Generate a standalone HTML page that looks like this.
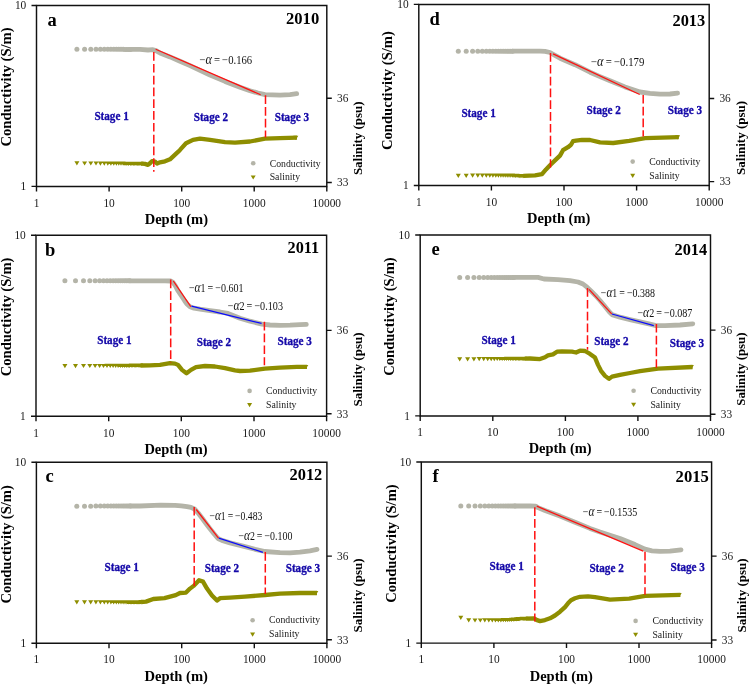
<!DOCTYPE html>
<html><head><meta charset="utf-8"><title>Conductivity and salinity profiles 2010-2015</title>
<style>html,body{margin:0;padding:0;background:#fff;width:750px;height:685px;overflow:hidden}svg{display:block;will-change:transform;font-family:"Liberation Serif",serif}</style>
</head><body>
<svg width="750" height="685" viewBox="0 0 750 685" font-family="Liberation Serif, serif"><g id="pa"><g fill="#b4b4a8"><circle cx="76.9" cy="49.2" r="2.5"/><circle cx="84.6" cy="49.2" r="2.5"/><circle cx="90.8" cy="49.2" r="2.5"/><circle cx="96" cy="49.3" r="2.5"/><circle cx="100.4" cy="49.3" r="2.5"/><circle cx="104.3" cy="49.3" r="2.5"/><circle cx="107.8" cy="49.3" r="2.5"/><circle cx="110.9" cy="49.3" r="2.5"/><circle cx="113.8" cy="49.3" r="2.5"/><circle cx="116.4" cy="49.3" r="2.5"/><circle cx="118.8" cy="49.3" r="2.5"/><circle cx="121" cy="49.3" r="2.5"/><circle cx="123.1" cy="49.3" r="2.5"/><circle cx="125" cy="49.4" r="2.5"/><circle cx="126.9" cy="49.4" r="2.5"/><circle cx="128.6" cy="49.4" r="2.5"/><circle cx="130.3" cy="49.4" r="2.5"/></g><polyline points="130.3,49.4 140,49.4 148,50 153,49.7 156,50.6 160,53 170,56.9 180,61.2 190,65.6 200,70.3 210,75.1 225,81.4 240,87.2 250,90.7 258,93 265,94.6 280,95.2 290,94.6 296.7,93.7" fill="none" stroke="#b4b4a8" stroke-width="4.8" stroke-linecap="round" stroke-linejoin="round"/><path fill="#8e8e00" d="M74.4 161.3H79.4L76.9 165.5ZM82.1 161.4H87.1L84.6 165.6ZM88.3 161.4H93.3L90.8 165.6ZM93.5 161.4H98.5L96 165.6ZM97.9 161.5H102.9L100.4 165.7ZM101.8 161.5H106.8L104.3 165.7ZM105.3 161.5H110.3L107.8 165.7ZM108.4 161.6H113.4L110.9 165.8ZM111.3 161.6H116.3L113.8 165.8ZM113.9 161.6H118.9L116.4 165.8ZM116.3 161.6H121.3L118.8 165.8ZM118.5 161.6H123.5L121 165.8ZM120.6 161.6H125.6L123.1 165.8ZM122.5 161.7H127.5L125 165.9ZM124.4 161.7H129.4L126.9 165.9ZM126.1 161.7H131.1L128.6 165.9ZM127.8 161.7H132.8L130.3 165.9ZM129.4 161.7H134.4L131.9 165.9ZM130.8 161.7H135.8L133.3 165.9ZM132.3 161.7H137.3L134.8 165.9ZM133.6 161.7H138.6L136.1 165.9ZM134.9 161.7H139.9L137.4 165.9ZM136.2 161.7H141.2L138.7 165.9ZM137.4 161.7H142.4L139.9 165.9ZM138.6 161.8H143.6L141.1 166ZM293.3 135.7H298.3L295.8 139.9Z"/><polyline points="141.1,163.7 145,163.9 148,164.9 150,163.3 152,161.1 155,161.6 157,163.6 160,162.3 165,161.3 170,159.3 174,155.6 178,151.9 180,149.9 186,143.3 193,139.9 200,138.7 210,139.9 225,142.1 235,142.6 250,141.5 265,138.7 280,138.1 297,137.6" fill="none" stroke="#8e8e00" stroke-width="4.3" stroke-linecap="butt" stroke-linejoin="round"/><line x1="155.7" y1="49.2" x2="260.6" y2="94.7" stroke="#ff1010" stroke-width="1.25"/><line x1="153.8" y1="52.1" x2="153.8" y2="171.7" stroke="#ff1010" stroke-width="1.5" stroke-dasharray="8.7 3.1"/><line x1="265.5" y1="95.2" x2="265.5" y2="137.5" stroke="#ff1010" stroke-width="1.5" stroke-dasharray="8.7 3.1"/><path d="M36.5 5.5H326.8V186.4H36.5Z" fill="none" stroke="#111" stroke-width="1.45"/><path d="M31.5 5.5H36.5M31.5 186.4H36.5M326.8 98.3H331.8M326.8 182.5H331.8M36.5 186.4V191.4M109.1 186.4V191.4M181.7 186.4V191.4M254.2 186.4V191.4M326.8 186.4V191.4" stroke="#111" stroke-width="1.4" fill="none"/><g font-size="11.4" fill="#1a1a1a"><text x="26.3" y="9.4" text-anchor="end" transform="matrix(1 0 0 1.08 0 -0.75)">10</text><text x="26.3" y="190.3" text-anchor="end" transform="matrix(1 0 0 1.08 0 -15.22)">1</text><text x="337" y="102.2" transform="matrix(1 0 0 1.08 0 -8.18)">36</text><text x="337" y="186.4" transform="matrix(1 0 0 1.08 0 -14.91)">33</text><text x="36.5" y="206.7" text-anchor="middle" transform="matrix(1 0 0 1.08 0 -16.54)">1</text><text x="109.1" y="206.7" text-anchor="middle" transform="matrix(1 0 0 1.08 0 -16.54)">10</text><text x="181.7" y="206.7" text-anchor="middle" transform="matrix(1 0 0 1.08 0 -16.54)">100</text><text x="254.2" y="206.7" text-anchor="middle" transform="matrix(1 0 0 1.08 0 -16.54)">1000</text><text x="326.8" y="206.7" text-anchor="middle" transform="matrix(1 0 0 1.08 0 -16.54)">10000</text></g><text transform="translate(10.8 146.6) rotate(-90)" font-size="14" font-weight="bold" textLength="119.3" lengthAdjust="spacingAndGlyphs">Conductivity (S/m)</text><text transform="translate(362.1 175.1) rotate(-90)" font-size="13.4" font-weight="bold" textLength="73.7" lengthAdjust="spacingAndGlyphs">Salinity (psu)</text><text x="144.7" y="224" font-size="14.5" font-weight="bold" textLength="63.3" lengthAdjust="spacingAndGlyphs">Depth (m)</text><text x="47.4" y="26" font-size="18.5" font-weight="bold">a</text><text x="286" y="24" font-size="16.5" font-weight="bold" textLength="33.2" lengthAdjust="spacingAndGlyphs">2010</text><g font-size="11.3" font-weight="bold" fill="#1408a8" stroke="#1408a8" stroke-width="0.3"><text x="94.4" y="119.9" textLength="34.3" lengthAdjust="spacingAndGlyphs" transform="matrix(1 0 0 1.13 0 -15.59)">Stage 1</text><text x="193.7" y="121.4" textLength="34.3" lengthAdjust="spacingAndGlyphs" transform="matrix(1 0 0 1.13 0 -15.78)">Stage 2</text><text x="274.7" y="121" textLength="34.3" lengthAdjust="spacingAndGlyphs" transform="matrix(1 0 0 1.13 0 -15.73)">Stage 3</text></g><g font-size="11.6" fill="#111"><text x="199.4" y="63.8" textLength="52.8" lengthAdjust="spacingAndGlyphs" transform="matrix(1 0 0 1.04 0 -2.55)">&#8722;<tspan font-style="italic" font-size="13.2">&#945;</tspan>&#8201;=&#8201;&#8722;0.166</text></g><circle cx="253.2" cy="163.2" r="2.3" fill="#b4b4a8"/><path d="M250.7 175.4H255.7L253.2 179.6Z" fill="#8e8e00"/><g font-size="9.9" fill="#1a1a1a"><text x="269.7" y="166.6" textLength="51" lengthAdjust="spacingAndGlyphs">Conductivity</text><text x="269.7" y="180" textLength="30.4" lengthAdjust="spacingAndGlyphs">Salinity</text></g></g><g id="pb"><g fill="#b4b4a8"><circle cx="64.9" cy="280.8" r="2.5"/><circle cx="75.5" cy="280.8" r="2.5"/><circle cx="83.5" cy="280.8" r="2.5"/><circle cx="89.8" cy="280.8" r="2.5"/><circle cx="95.1" cy="280.8" r="2.5"/><circle cx="99.6" cy="280.8" r="2.5"/><circle cx="103.5" cy="280.8" r="2.5"/><circle cx="107" cy="280.8" r="2.5"/><circle cx="110.2" cy="280.8" r="2.5"/><circle cx="113.1" cy="280.8" r="2.5"/><circle cx="115.7" cy="280.8" r="2.5"/><circle cx="118.1" cy="280.8" r="2.5"/><circle cx="120.4" cy="280.8" r="2.5"/><circle cx="122.5" cy="280.8" r="2.5"/><circle cx="124.5" cy="280.8" r="2.5"/><circle cx="126.3" cy="280.8" r="2.5"/><circle cx="128.1" cy="280.8" r="2.5"/><circle cx="129.7" cy="280.8" r="2.5"/></g><polyline points="129.7,280.8 165,280.8 170.5,281 173,282.3 175.5,286 177.5,290 180,293.8 182.5,297.5 184.5,300.5 187,304 190,306.8 194,308.2 200,309.2 210,310.6 220,312 228,313.4 240,318.2 250,321.2 262,324.1 270,325 280,325.4 290,325.2 300,324.7 306.3,324.4" fill="none" stroke="#b4b4a8" stroke-width="4.8" stroke-linecap="round" stroke-linejoin="round"/><path fill="#8e8e00" d="M62.4 364H67.4L64.9 368.2ZM73 364H78L75.5 368.2ZM81 363.9H86L83.5 368.1ZM87.3 363.9H92.3L89.8 368.1ZM92.6 363.9H97.6L95.1 368.1ZM97.1 363.9H102.1L99.6 368.1ZM101 363.9H106L103.5 368.1ZM104.5 363.8H109.5L107 368ZM107.7 363.8H112.7L110.2 368ZM110.6 363.8H115.6L113.1 368ZM113.2 363.8H118.2L115.7 368ZM115.6 363.8H120.6L118.1 368ZM117.9 363.7H122.9L120.4 367.9ZM120 363.7H125L122.5 367.9ZM122 363.7H127L124.5 367.9ZM123.8 363.7H128.8L126.3 367.9ZM125.6 363.7H130.6L128.1 367.9ZM127.2 363.7H132.2L129.7 367.9ZM128.8 363.6H133.8L131.3 367.8ZM130.3 363.6H135.3L132.8 367.8ZM131.7 363.6H136.7L134.2 367.8ZM133.1 363.6H138.1L135.6 367.8ZM134.4 363.6H139.4L136.9 367.8ZM135.7 363.6H140.7L138.2 367.8ZM136.9 363.6H141.9L139.4 367.8ZM138.1 363.6H143.1L140.6 367.8ZM303.3 364.9H308.3L305.8 369.1Z"/><polyline points="140.6,365.5 150,365.4 160,364.9 170,363.1 175,363.6 178,364.9 182,369.9 186.5,373.3 191,369.9 196,367.2 205,366 215,366.5 225,368.1 235,370.3 240,371 250,370.6 265,368.7 280,367.6 297,366.9 307,366.8" fill="none" stroke="#8e8e00" stroke-width="4.3" stroke-linecap="butt" stroke-linejoin="round"/><line x1="173.3" y1="281" x2="190.8" y2="306.6" stroke="#ff1010" stroke-width="1.25"/><line x1="191.5" y1="306.2" x2="261.6" y2="323.4" stroke="#0a0aff" stroke-width="1.25"/><line x1="170.7" y1="279.5" x2="170.7" y2="362.4" stroke="#ff1010" stroke-width="1.5" stroke-dasharray="8.7 3.1"/><line x1="264.4" y1="321.8" x2="264.4" y2="365.2" stroke="#ff1010" stroke-width="1.5" stroke-dasharray="8.7 3.1"/><path d="M36 235.2H326.6V416.3H36Z" fill="none" stroke="#111" stroke-width="1.45"/><path d="M31 235.2H36M31 416.3H36M326.6 330.4H331.6M326.6 413.7H331.6M36 416.3V421.3M108.7 416.3V421.3M181.3 416.3V421.3M254 416.3V421.3M326.6 416.3V421.3" stroke="#111" stroke-width="1.4" fill="none"/><g font-size="11.4" fill="#1a1a1a"><text x="25.8" y="239.1" text-anchor="end" transform="matrix(1 0 0 1.08 0 -19.13)">10</text><text x="25.8" y="420.2" text-anchor="end" transform="matrix(1 0 0 1.08 0 -33.62)">1</text><text x="336.8" y="334.3" transform="matrix(1 0 0 1.08 0 -26.74)">36</text><text x="336.8" y="417.6" transform="matrix(1 0 0 1.08 0 -33.41)">33</text><text x="36" y="436.6" text-anchor="middle" transform="matrix(1 0 0 1.08 0 -34.93)">1</text><text x="108.7" y="436.6" text-anchor="middle" transform="matrix(1 0 0 1.08 0 -34.93)">10</text><text x="181.3" y="436.6" text-anchor="middle" transform="matrix(1 0 0 1.08 0 -34.93)">100</text><text x="254" y="436.6" text-anchor="middle" transform="matrix(1 0 0 1.08 0 -34.93)">1000</text><text x="326.6" y="436.6" text-anchor="middle" transform="matrix(1 0 0 1.08 0 -34.93)">10000</text></g><text transform="translate(10.5 376.3) rotate(-90)" font-size="14" font-weight="bold" textLength="118.7" lengthAdjust="spacingAndGlyphs">Conductivity (S/m)</text><text transform="translate(361.5 406.5) rotate(-90)" font-size="13.4" font-weight="bold" textLength="74" lengthAdjust="spacingAndGlyphs">Salinity (psu)</text><text x="144.4" y="453.7" font-size="14.5" font-weight="bold" textLength="63.2" lengthAdjust="spacingAndGlyphs">Depth (m)</text><text x="45" y="255.8" font-size="18.5" font-weight="bold">b</text><text x="287.6" y="253" font-size="16.5" font-weight="bold" textLength="31.6" lengthAdjust="spacingAndGlyphs">2011</text><g font-size="11.3" font-weight="bold" fill="#1408a8" stroke="#1408a8" stroke-width="0.3"><text x="97.2" y="344.2" textLength="34.3" lengthAdjust="spacingAndGlyphs" transform="matrix(1 0 0 1.13 0 -44.75)">Stage 1</text><text x="196.7" y="345.6" textLength="34.3" lengthAdjust="spacingAndGlyphs" transform="matrix(1 0 0 1.13 0 -44.93)">Stage 2</text><text x="277.6" y="344.9" textLength="34.3" lengthAdjust="spacingAndGlyphs" transform="matrix(1 0 0 1.13 0 -44.84)">Stage 3</text></g><g font-size="11.6" fill="#111"><text x="188.9" y="292.3" textLength="54.7" lengthAdjust="spacingAndGlyphs" transform="matrix(1 0 0 1.04 0 -11.69)">&#8722;<tspan font-style="italic" font-size="13.2">&#945;</tspan>1&#8201;=&#8201;&#8722;0.601</text><text x="227.7" y="309.8" textLength="55.3" lengthAdjust="spacingAndGlyphs" transform="matrix(1 0 0 1.04 0 -12.39)">&#8722;<tspan font-style="italic" font-size="13.2">&#945;</tspan>2&#8201;=&#8201;&#8722;0.103</text></g><circle cx="249.6" cy="390.9" r="2.3" fill="#b4b4a8"/><path d="M247.1 403.1H252.1L249.6 407.3Z" fill="#8e8e00"/><g font-size="9.9" fill="#1a1a1a"><text x="266.1" y="394" textLength="51" lengthAdjust="spacingAndGlyphs">Conductivity</text><text x="266.1" y="408" textLength="30.4" lengthAdjust="spacingAndGlyphs">Salinity</text></g></g><g id="pc"><g fill="#b4b4a8"><circle cx="76.8" cy="506.2" r="2.5"/><circle cx="84.5" cy="506.2" r="2.5"/><circle cx="90.7" cy="506.2" r="2.5"/><circle cx="95.9" cy="506.1" r="2.5"/><circle cx="100.4" cy="506.1" r="2.5"/><circle cx="104.3" cy="506.1" r="2.5"/><circle cx="107.7" cy="506.1" r="2.5"/><circle cx="110.9" cy="506.1" r="2.5"/><circle cx="113.7" cy="506.1" r="2.5"/><circle cx="116.3" cy="506.1" r="2.5"/><circle cx="118.7" cy="506.1" r="2.5"/><circle cx="121" cy="506.1" r="2.5"/><circle cx="123.1" cy="506.1" r="2.5"/><circle cx="125" cy="506" r="2.5"/><circle cx="126.9" cy="506" r="2.5"/><circle cx="128.6" cy="506" r="2.5"/><circle cx="130.3" cy="506" r="2.5"/></g><polyline points="130.3,506 140,506 160.8,505.2 175,505.4 181.3,505.9 187,506.6 191,507.4 194.5,509 198,512.8 202,518 206,523.5 210,528.8 214,533.8 218,538.5 222,540.4 230,542.9 245,546.6 255,549.3 265,551.5 280,552.6 290,552.8 300,552.2 310,550.8 317,549.4" fill="none" stroke="#b4b4a8" stroke-width="4.8" stroke-linecap="round" stroke-linejoin="round"/><path fill="#8e8e00" d="M74.3 600.2H79.3L76.8 604.4ZM82 600.2H87L84.5 604.4ZM88.2 600.2H93.2L90.7 604.4ZM93.4 600.2H98.4L95.9 604.4ZM97.9 600.2H102.9L100.4 604.4ZM101.8 600.2H106.8L104.3 604.4ZM105.2 600.2H110.2L107.7 604.4ZM108.4 600.2H113.4L110.9 604.4ZM111.2 600.2H116.2L113.7 604.4ZM113.8 600.2H118.8L116.3 604.4ZM116.2 600.2H121.2L118.7 604.4ZM118.5 600.2H123.5L121 604.4ZM120.6 600.2H125.6L123.1 604.4ZM122.5 600.2H127.5L125 604.4ZM124.4 600.2H129.4L126.9 604.4ZM126.1 600.2H131.1L128.6 604.4ZM127.8 600.2H132.8L130.3 604.4ZM129.3 600.2H134.3L131.8 604.4ZM130.8 600.2H135.8L133.3 604.4ZM132.2 600.2H137.2L134.7 604.4ZM133.6 600.2H138.6L136.1 604.4ZM134.9 600.2H139.9L137.4 604.4ZM136.2 600.2H141.2L138.7 604.4ZM137.4 600.2H142.4L139.9 604.4ZM138.5 600.1H143.5L141 604.3ZM313.3 591.1H318.3L315.8 595.3Z"/><polyline points="141,602 146,601.6 153.3,599 164.5,598.2 175.7,595.2 180,593 186,592.6 190,588.6 194,585.6 199,580.2 203,581.6 207,588.6 212,595.6 217,600.6 220,598.2 230,597.6 245,596.6 265,595 280,593.6 300,593 317,593" fill="none" stroke="#8e8e00" stroke-width="4.3" stroke-linecap="butt" stroke-linejoin="round"/><line x1="196.2" y1="509.5" x2="218.5" y2="538.1" stroke="#ff1010" stroke-width="1.25"/><line x1="218.8" y1="538.2" x2="262.9" y2="552.3" stroke="#0a0aff" stroke-width="1.25"/><line x1="194.2" y1="506.9" x2="194.2" y2="586" stroke="#ff1010" stroke-width="1.5" stroke-dasharray="8.7 3.1"/><line x1="265.3" y1="552.1" x2="265.3" y2="594" stroke="#ff1010" stroke-width="1.5" stroke-dasharray="8.7 3.1"/><path d="M36.4 462.3H326.9V643.2H36.4Z" fill="none" stroke="#111" stroke-width="1.45"/><path d="M31.4 462.3H36.4M31.4 643.2H36.4M326.9 556.1H331.9M326.9 639.7H331.9M36.4 643.2V648.2M109 643.2V648.2M181.7 643.2V648.2M254.3 643.2V648.2M326.9 643.2V648.2" stroke="#111" stroke-width="1.4" fill="none"/><g font-size="11.4" fill="#1a1a1a"><text x="26.2" y="466.2" text-anchor="end" transform="matrix(1 0 0 1.08 0 -37.30)">10</text><text x="26.2" y="647.1" text-anchor="end" transform="matrix(1 0 0 1.08 0 -51.77)">1</text><text x="337.1" y="560" transform="matrix(1 0 0 1.08 0 -44.80)">36</text><text x="337.1" y="643.6" transform="matrix(1 0 0 1.08 0 -51.49)">33</text><text x="36.4" y="663.5" text-anchor="middle" transform="matrix(1 0 0 1.08 0 -53.08)">1</text><text x="109" y="663.5" text-anchor="middle" transform="matrix(1 0 0 1.08 0 -53.08)">10</text><text x="181.7" y="663.5" text-anchor="middle" transform="matrix(1 0 0 1.08 0 -53.08)">100</text><text x="254.3" y="663.5" text-anchor="middle" transform="matrix(1 0 0 1.08 0 -53.08)">1000</text><text x="326.9" y="663.5" text-anchor="middle" transform="matrix(1 0 0 1.08 0 -53.08)">10000</text></g><text transform="translate(10.8 603.6) rotate(-90)" font-size="14" font-weight="bold" textLength="118.4" lengthAdjust="spacingAndGlyphs">Conductivity (S/m)</text><text transform="translate(362 632.4) rotate(-90)" font-size="13.4" font-weight="bold" textLength="73.9" lengthAdjust="spacingAndGlyphs">Salinity (psu)</text><text x="144.4" y="681" font-size="14.5" font-weight="bold" textLength="63.6" lengthAdjust="spacingAndGlyphs">Depth (m)</text><text x="45.6" y="482" font-size="18.5" font-weight="bold">c</text><text x="289.5" y="480" font-size="16.5" font-weight="bold" textLength="32.8" lengthAdjust="spacingAndGlyphs">2012</text><g font-size="11.3" font-weight="bold" fill="#1408a8" stroke="#1408a8" stroke-width="0.3"><text x="104.5" y="570.7" textLength="34.3" lengthAdjust="spacingAndGlyphs" transform="matrix(1 0 0 1.13 0 -74.19)">Stage 1</text><text x="204.7" y="572" textLength="34.3" lengthAdjust="spacingAndGlyphs" transform="matrix(1 0 0 1.13 0 -74.36)">Stage 2</text><text x="285.7" y="572" textLength="34.3" lengthAdjust="spacingAndGlyphs" transform="matrix(1 0 0 1.13 0 -74.36)">Stage 3</text></g><g font-size="11.6" fill="#111"><text x="209.6" y="519.6" textLength="52.8" lengthAdjust="spacingAndGlyphs" transform="matrix(1 0 0 1.04 0 -20.78)">&#8722;<tspan font-style="italic" font-size="13.2">&#945;</tspan>1&#8201;=&#8201;&#8722;0.483</text><text x="238.4" y="540.4" textLength="54" lengthAdjust="spacingAndGlyphs" transform="matrix(1 0 0 1.04 0 -21.62)">&#8722;<tspan font-style="italic" font-size="13.2">&#945;</tspan>2&#8201;=&#8201;&#8722;0.100</text></g><circle cx="252.6" cy="620.2" r="2.3" fill="#b4b4a8"/><path d="M250.1 632.5H255.1L252.6 636.7Z" fill="#8e8e00"/><g font-size="9.9" fill="#1a1a1a"><text x="269.1" y="623.4" textLength="51" lengthAdjust="spacingAndGlyphs">Conductivity</text><text x="269.1" y="637" textLength="30.4" lengthAdjust="spacingAndGlyphs">Salinity</text></g></g><g id="pd"><g fill="#b4b4a8"><circle cx="458.3" cy="51.2" r="2.5"/><circle cx="466.2" cy="51.2" r="2.5"/><circle cx="472.6" cy="51.2" r="2.5"/><circle cx="477.8" cy="51.2" r="2.5"/><circle cx="482.3" cy="51.2" r="2.5"/><circle cx="486.3" cy="51.2" r="2.5"/><circle cx="489.8" cy="51.2" r="2.5"/><circle cx="492.9" cy="51.2" r="2.5"/><circle cx="495.8" cy="51.2" r="2.5"/><circle cx="498.4" cy="51.2" r="2.5"/><circle cx="500.9" cy="51.2" r="2.5"/><circle cx="503.1" cy="51.2" r="2.5"/><circle cx="505.2" cy="51.2" r="2.5"/><circle cx="507.2" cy="51.2" r="2.5"/><circle cx="509" cy="51.2" r="2.5"/><circle cx="510.8" cy="51.2" r="2.5"/><circle cx="512.5" cy="51.2" r="2.5"/></g><polyline points="512.5,51.2 540,51.2 545,51.4 550,52.5 555,55.3 560,58.2 575,64.7 590,72.2 600,76.6 610,80.8 625,86.9 640,92 650,93.3 660,94.2 670,94 677.6,93.2" fill="none" stroke="#b4b4a8" stroke-width="4.8" stroke-linecap="round" stroke-linejoin="round"/><path fill="#8e8e00" d="M455.8 173.7H460.8L458.3 177.9ZM463.7 173.7H468.7L466.2 177.9ZM470.1 173.6H475.1L472.6 177.8ZM475.3 173.6H480.3L477.8 177.8ZM479.8 173.6H484.8L482.3 177.8ZM483.8 173.6H488.8L486.3 177.8ZM487.3 173.6H492.3L489.8 177.8ZM490.4 173.6H495.4L492.9 177.8ZM493.3 173.6H498.3L495.8 177.8ZM495.9 173.5H500.9L498.4 177.7ZM498.4 173.5H503.4L500.9 177.7ZM500.6 173.5H505.6L503.1 177.7ZM502.7 173.5H507.7L505.2 177.7ZM504.7 173.5H509.7L507.2 177.7ZM506.5 173.5H511.5L509 177.7ZM508.3 173.5H513.3L510.8 177.7ZM510 173.6H515L512.5 177.8ZM511.5 173.7H516.5L514 177.9ZM513 173.8H518L515.5 178ZM514.5 173.8H519.5L517 178ZM515.8 173.9H520.8L518.3 178.1ZM517.2 174H522.2L519.7 178.2ZM518.4 174H523.4L520.9 178.2ZM519.6 174.1H524.6L522.1 178.3ZM520.8 174H525.8L523.3 178.2ZM675.1 135.3H680.1L677.6 139.5Z"/><polyline points="523.3,175.9 535,175.4 542,174.2 546,169.4 550,165.2 555,160.4 560,155.6 563,150.2 568,147.2 571,144.8 573,141.2 576,140.6 582,139.8 590,140 600,142.4 613.2,143 629.2,140.8 645.2,138.2 678.8,137.2" fill="none" stroke="#8e8e00" stroke-width="4.3" stroke-linecap="butt" stroke-linejoin="round"/><line x1="553.1" y1="53.9" x2="639.7" y2="94.5" stroke="#ff1010" stroke-width="1.25"/><line x1="550.5" y1="53.1" x2="550.5" y2="167.6" stroke="#ff1010" stroke-width="1.5" stroke-dasharray="8.7 3.1"/><line x1="643.2" y1="94.9" x2="643.2" y2="136.5" stroke="#ff1010" stroke-width="1.5" stroke-dasharray="8.7 3.1"/><path d="M418.8 4.4H709.2V185.5H418.8Z" fill="none" stroke="#111" stroke-width="1.45"/><path d="M413.8 4.4H418.8M413.8 185.5H418.8M709.2 98.5H714.2M709.2 181.6H714.2M418.8 185.5V190.5M491.4 185.5V190.5M564 185.5V190.5M636.6 185.5V190.5M709.2 185.5V190.5" stroke="#111" stroke-width="1.4" fill="none"/><g font-size="11.4" fill="#1a1a1a"><text x="408.6" y="8.3" text-anchor="end" transform="matrix(1 0 0 1.08 0 -0.66)">10</text><text x="408.6" y="189.4" text-anchor="end" transform="matrix(1 0 0 1.08 0 -15.15)">1</text><text x="719.4" y="102.4" transform="matrix(1 0 0 1.08 0 -8.19)">36</text><text x="719.4" y="185.5" transform="matrix(1 0 0 1.08 0 -14.84)">33</text><text x="418.8" y="205.8" text-anchor="middle" transform="matrix(1 0 0 1.08 0 -16.46)">1</text><text x="491.4" y="205.8" text-anchor="middle" transform="matrix(1 0 0 1.08 0 -16.46)">10</text><text x="564" y="205.8" text-anchor="middle" transform="matrix(1 0 0 1.08 0 -16.46)">100</text><text x="636.6" y="205.8" text-anchor="middle" transform="matrix(1 0 0 1.08 0 -16.46)">1000</text><text x="709.2" y="205.8" text-anchor="middle" transform="matrix(1 0 0 1.08 0 -16.46)">10000</text></g><text transform="translate(392.2 150) rotate(-90)" font-size="14" font-weight="bold" textLength="118.9" lengthAdjust="spacingAndGlyphs">Conductivity (S/m)</text><text transform="translate(744.7 174.9) rotate(-90)" font-size="13.4" font-weight="bold" textLength="74" lengthAdjust="spacingAndGlyphs">Salinity (psu)</text><text x="527.1" y="223.3" font-size="14.5" font-weight="bold" textLength="63.2" lengthAdjust="spacingAndGlyphs">Depth (m)</text><text x="429.5" y="24.8" font-size="18.5" font-weight="bold">d</text><text x="672.5" y="25.5" font-size="16.5" font-weight="bold" textLength="32.7" lengthAdjust="spacingAndGlyphs">2013</text><g font-size="11.3" font-weight="bold" fill="#1408a8" stroke="#1408a8" stroke-width="0.3"><text x="461.4" y="117" textLength="34.3" lengthAdjust="spacingAndGlyphs" transform="matrix(1 0 0 1.13 0 -15.21)">Stage 1</text><text x="586.6" y="114.5" textLength="34.3" lengthAdjust="spacingAndGlyphs" transform="matrix(1 0 0 1.13 0 -14.88)">Stage 2</text><text x="667.7" y="114" textLength="34.3" lengthAdjust="spacingAndGlyphs" transform="matrix(1 0 0 1.13 0 -14.82)">Stage 3</text></g><g font-size="11.6" fill="#111"><text x="591" y="66" textLength="53.4" lengthAdjust="spacingAndGlyphs" transform="matrix(1 0 0 1.04 0 -2.64)">&#8722;<tspan font-style="italic" font-size="13.2">&#945;</tspan>&#8201;=&#8201;&#8722;0.179</text></g><circle cx="632.7" cy="161.6" r="2.3" fill="#b4b4a8"/><path d="M630.2 173.7H635.2L632.7 177.9Z" fill="#8e8e00"/><g font-size="9.9" fill="#1a1a1a"><text x="649.3" y="164.7" textLength="51" lengthAdjust="spacingAndGlyphs">Conductivity</text><text x="649.3" y="178.7" textLength="30.4" lengthAdjust="spacingAndGlyphs">Salinity</text></g></g><g id="pe"><g fill="#b4b4a8"><circle cx="459.7" cy="277.4" r="2.5"/><circle cx="467.6" cy="277.4" r="2.5"/><circle cx="473.9" cy="277.4" r="2.5"/><circle cx="479.2" cy="277.4" r="2.5"/><circle cx="483.7" cy="277.4" r="2.5"/><circle cx="487.7" cy="277.4" r="2.5"/><circle cx="491.2" cy="277.4" r="2.5"/><circle cx="494.3" cy="277.4" r="2.5"/><circle cx="497.2" cy="277.4" r="2.5"/><circle cx="499.8" cy="277.4" r="2.5"/><circle cx="502.2" cy="277.4" r="2.5"/><circle cx="504.5" cy="277.4" r="2.5"/><circle cx="506.6" cy="277.4" r="2.5"/><circle cx="508.6" cy="277.4" r="2.5"/><circle cx="510.4" cy="277.4" r="2.5"/><circle cx="512.2" cy="277.4" r="2.5"/><circle cx="513.8" cy="277.4" r="2.5"/></g><polyline points="513.8,277.4 538,277.4 544,279 558,279.6 570,280.6 578,282 583,284 587,287.2 591,291 595.2,295.2 600,300.5 605,306.5 609,311.5 612,314.6 620,317.2 630,319.6 640,321.8 650,324.2 656,325.7 665,325.6 680,325 692.8,323.8" fill="none" stroke="#b4b4a8" stroke-width="4.8" stroke-linecap="round" stroke-linejoin="round"/><path fill="#8e8e00" d="M457.2 357.3H462.2L459.7 361.5ZM465.1 357.2H470.1L467.6 361.4ZM471.4 357.2H476.4L473.9 361.4ZM476.7 357.1H481.7L479.2 361.3ZM481.2 357.1H486.2L483.7 361.3ZM485.2 357H490.2L487.7 361.2ZM488.7 357H493.7L491.2 361.2ZM491.8 357H496.8L494.3 361.2ZM494.7 356.9H499.7L497.2 361.1ZM497.3 356.9H502.3L499.8 361.1ZM499.7 356.9H504.7L502.2 361.1ZM502 356.9H507L504.5 361.1ZM504.1 356.8H509.1L506.6 361ZM506.1 356.8H511.1L508.6 361ZM507.9 356.8H512.9L510.4 361ZM509.7 356.8H514.7L512.2 361ZM511.3 356.8H516.3L513.8 361ZM512.9 356.7H517.9L515.4 360.9ZM514.4 356.7H519.4L516.9 360.9ZM515.8 356.7H520.8L518.3 360.9ZM517.2 356.7H522.2L519.7 360.9ZM518.5 356.7H523.5L521 360.9ZM519.8 356.7H524.8L522.3 360.9ZM521 356.7H526L523.5 360.9ZM522.2 356.7H527.2L524.7 360.9ZM688.9 365.1H693.9L691.4 369.3Z"/><polyline points="524.7,358.6 530,358.5 540,359.1 545,357.3 548,355.4 553,354.4 557,351.7 562,351.4 572,351.7 576,352.5 580,350.7 585,351 590,353.9 595,357.6 598,364.9 601,370.8 605,375.9 609,378.9 612,376.6 620,374.9 630,373 640,371.1 658,368.6 692.6,367" fill="none" stroke="#8e8e00" stroke-width="4.3" stroke-linecap="butt" stroke-linejoin="round"/><line x1="589" y1="289.3" x2="611.7" y2="313.9" stroke="#ff1010" stroke-width="1.25"/><line x1="611.9" y1="314" x2="653.8" y2="325.6" stroke="#0a0aff" stroke-width="1.25"/><line x1="587.5" y1="288.1" x2="587.5" y2="349.7" stroke="#ff1010" stroke-width="1.5" stroke-dasharray="8.7 3.1"/><line x1="656.4" y1="323.9" x2="656.4" y2="367.7" stroke="#ff1010" stroke-width="1.5" stroke-dasharray="8.7 3.1"/><path d="M420.2 235H710.5V415.9H420.2Z" fill="none" stroke="#111" stroke-width="1.45"/><path d="M415.2 235H420.2M415.2 415.9H420.2M710.5 330.1H715.5M710.5 414.2H715.5M420.2 415.9V420.9M492.8 415.9V420.9M565.4 415.9V420.9M637.9 415.9V420.9M710.5 415.9V420.9" stroke="#111" stroke-width="1.4" fill="none"/><g font-size="11.4" fill="#1a1a1a"><text x="410" y="238.9" text-anchor="end" transform="matrix(1 0 0 1.08 0 -19.11)">10</text><text x="410" y="419.8" text-anchor="end" transform="matrix(1 0 0 1.08 0 -33.58)">1</text><text x="720.7" y="334" transform="matrix(1 0 0 1.08 0 -26.72)">36</text><text x="720.7" y="418.1" transform="matrix(1 0 0 1.08 0 -33.45)">33</text><text x="420.2" y="436.2" text-anchor="middle" transform="matrix(1 0 0 1.08 0 -34.90)">1</text><text x="492.8" y="436.2" text-anchor="middle" transform="matrix(1 0 0 1.08 0 -34.90)">10</text><text x="565.4" y="436.2" text-anchor="middle" transform="matrix(1 0 0 1.08 0 -34.90)">100</text><text x="637.9" y="436.2" text-anchor="middle" transform="matrix(1 0 0 1.08 0 -34.90)">1000</text><text x="710.5" y="436.2" text-anchor="middle" transform="matrix(1 0 0 1.08 0 -34.90)">10000</text></g><text transform="translate(394.3 375.7) rotate(-90)" font-size="14" font-weight="bold" textLength="118.4" lengthAdjust="spacingAndGlyphs">Conductivity (S/m)</text><text transform="translate(745 405.7) rotate(-90)" font-size="13.4" font-weight="bold" textLength="73.2" lengthAdjust="spacingAndGlyphs">Salinity (psu)</text><text x="528.7" y="453.3" font-size="14.5" font-weight="bold" textLength="62.9" lengthAdjust="spacingAndGlyphs">Depth (m)</text><text x="431.4" y="255" font-size="18.5" font-weight="bold">e</text><text x="674.5" y="254.8" font-size="16.5" font-weight="bold" textLength="32.7" lengthAdjust="spacingAndGlyphs">2014</text><g font-size="11.3" font-weight="bold" fill="#1408a8" stroke="#1408a8" stroke-width="0.3"><text x="481.4" y="343.7" textLength="34.3" lengthAdjust="spacingAndGlyphs" transform="matrix(1 0 0 1.13 0 -44.68)">Stage 1</text><text x="594.2" y="345.3" textLength="34.3" lengthAdjust="spacingAndGlyphs" transform="matrix(1 0 0 1.13 0 -44.89)">Stage 2</text><text x="669.8" y="347.4" textLength="34.3" lengthAdjust="spacingAndGlyphs" transform="matrix(1 0 0 1.13 0 -45.16)">Stage 3</text></g><g font-size="11.6" fill="#111"><text x="600.8" y="297.1" textLength="54.1" lengthAdjust="spacingAndGlyphs" transform="matrix(1 0 0 1.04 0 -11.88)">&#8722;<tspan font-style="italic" font-size="13.2">&#945;</tspan>1&#8201;=&#8201;&#8722;0.388</text><text x="637.4" y="316.9" textLength="55" lengthAdjust="spacingAndGlyphs" transform="matrix(1 0 0 1.04 0 -12.68)">&#8722;<tspan font-style="italic" font-size="13.2">&#945;</tspan>2&#8201;=&#8201;&#8722;0.087</text></g><circle cx="633.6" cy="390.7" r="2.3" fill="#b4b4a8"/><path d="M631.1 402.8H636.1L633.6 407Z" fill="#8e8e00"/><g font-size="9.9" fill="#1a1a1a"><text x="650.4" y="394" textLength="51" lengthAdjust="spacingAndGlyphs">Conductivity</text><text x="650.4" y="408" textLength="30.4" lengthAdjust="spacingAndGlyphs">Salinity</text></g></g><g id="pf"><g fill="#b4b4a8"><circle cx="460.8" cy="506" r="2.5"/><circle cx="468.7" cy="506" r="2.5"/><circle cx="475" cy="506" r="2.5"/><circle cx="480.3" cy="506" r="2.5"/><circle cx="484.8" cy="506" r="2.5"/><circle cx="488.8" cy="506" r="2.5"/><circle cx="492.3" cy="506" r="2.5"/><circle cx="495.4" cy="506" r="2.5"/><circle cx="498.3" cy="506" r="2.5"/><circle cx="500.9" cy="506" r="2.5"/><circle cx="503.3" cy="506" r="2.5"/><circle cx="505.6" cy="506" r="2.5"/><circle cx="507.7" cy="506" r="2.5"/><circle cx="509.7" cy="506" r="2.5"/><circle cx="511.5" cy="506" r="2.5"/><circle cx="513.3" cy="506" r="2.5"/><circle cx="514.9" cy="506" r="2.5"/></g><polyline points="514.9,506 530,506 535.5,506.1 538,507.6 545,510.5 560,516.1 575,522.3 590,528.4 600,532 610,535.3 620,538.6 635,544.6 645,549.2 652,550.8 660,551.3 670,551.2 681,549.9" fill="none" stroke="#b4b4a8" stroke-width="4.8" stroke-linecap="round" stroke-linejoin="round"/><path fill="#8e8e00" d="M458.3 615.8H463.3L460.8 620ZM466.2 618.2H471.2L468.7 622.4ZM472.5 618.4H477.5L475 622.6ZM477.8 618.4H482.8L480.3 622.6ZM482.3 618.3H487.3L484.8 622.5ZM486.3 618.3H491.3L488.8 622.5ZM489.8 618.3H494.8L492.3 622.5ZM492.9 618.2H497.9L495.4 622.4ZM495.8 618.2H500.8L498.3 622.4ZM498.4 618.2H503.4L500.9 622.4ZM500.8 618.1H505.8L503.3 622.3ZM503.1 618H508.1L505.6 622.2ZM505.2 618H510.2L507.7 622.2ZM507.2 617.9H512.2L509.7 622.1ZM509 617.7H514L511.5 621.9ZM510.8 617.6H515.8L513.3 621.8ZM512.4 617.4H517.4L514.9 621.6ZM514 617.2H519L516.5 621.4ZM515.5 617.1H520.5L518 621.3ZM516.9 617H521.9L519.4 621.2ZM518.3 616.9H523.3L520.8 621.1ZM519.6 616.8H524.6L522.1 621ZM520.9 616.8H525.9L523.4 621ZM522.1 616.7H527.1L524.6 620.9ZM523.3 616.7H528.3L525.8 620.9ZM676.7 592.9H681.7L679.2 597.1Z"/><polyline points="525.8,618.6 534,618.3 537,620.1 540,621.1 545,620.1 550,618.3 555,615.5 560,611.7 565,607.1 568,603.3 571,600.2 575,598.3 580,596.8 588,596.4 595,597.2 610,599.6 629.2,598.6 645.2,595.8 680.4,594.8" fill="none" stroke="#8e8e00" stroke-width="4.3" stroke-linecap="butt" stroke-linejoin="round"/><line x1="536.8" y1="506.2" x2="643.2" y2="551.2" stroke="#ff1010" stroke-width="1.25"/><line x1="534.8" y1="507.3" x2="534.8" y2="621.4" stroke="#ff1010" stroke-width="1.5" stroke-dasharray="8.7 3.1"/><line x1="645" y1="551.8" x2="645" y2="594.7" stroke="#ff1010" stroke-width="1.5" stroke-dasharray="8.7 3.1"/><path d="M421.3 462H711.6V643.1H421.3Z" fill="none" stroke="#111" stroke-width="1.45"/><path d="M416.3 462H421.3M416.3 643.1H421.3M711.6 556.1H716.6M711.6 640H716.6M421.3 643.1V648.1M493.9 643.1V648.1M566.5 643.1V648.1M639 643.1V648.1M711.6 643.1V648.1" stroke="#111" stroke-width="1.4" fill="none"/><g font-size="11.4" fill="#1a1a1a"><text x="411.1" y="465.9" text-anchor="end" transform="matrix(1 0 0 1.08 0 -37.27)">10</text><text x="411.1" y="647" text-anchor="end" transform="matrix(1 0 0 1.08 0 -51.76)">1</text><text x="721.8" y="560" transform="matrix(1 0 0 1.08 0 -44.80)">36</text><text x="721.8" y="643.9" transform="matrix(1 0 0 1.08 0 -51.51)">33</text><text x="421.3" y="663.4" text-anchor="middle" transform="matrix(1 0 0 1.08 0 -53.07)">1</text><text x="493.9" y="663.4" text-anchor="middle" transform="matrix(1 0 0 1.08 0 -53.07)">10</text><text x="566.5" y="663.4" text-anchor="middle" transform="matrix(1 0 0 1.08 0 -53.07)">100</text><text x="639" y="663.4" text-anchor="middle" transform="matrix(1 0 0 1.08 0 -53.07)">1000</text><text x="711.6" y="663.4" text-anchor="middle" transform="matrix(1 0 0 1.08 0 -53.07)">10000</text></g><text transform="translate(395.5 602.7) rotate(-90)" font-size="14" font-weight="bold" textLength="118.3" lengthAdjust="spacingAndGlyphs">Conductivity (S/m)</text><text transform="translate(746.3 632.4) rotate(-90)" font-size="13.4" font-weight="bold" textLength="73.9" lengthAdjust="spacingAndGlyphs">Salinity (psu)</text><text x="529.7" y="681" font-size="14.5" font-weight="bold" textLength="63.2" lengthAdjust="spacingAndGlyphs">Depth (m)</text><text x="432.4" y="481.8" font-size="18.5" font-weight="bold">f</text><text x="675.6" y="481.8" font-size="16.5" font-weight="bold" textLength="33.3" lengthAdjust="spacingAndGlyphs">2015</text><g font-size="11.3" font-weight="bold" fill="#1408a8" stroke="#1408a8" stroke-width="0.3"><text x="489.6" y="570.4" textLength="34.3" lengthAdjust="spacingAndGlyphs" transform="matrix(1 0 0 1.13 0 -74.15)">Stage 1</text><text x="589.4" y="571.8" textLength="34.3" lengthAdjust="spacingAndGlyphs" transform="matrix(1 0 0 1.13 0 -74.33)">Stage 2</text><text x="670.6" y="571.4" textLength="34.3" lengthAdjust="spacingAndGlyphs" transform="matrix(1 0 0 1.13 0 -74.28)">Stage 3</text></g><g font-size="11.6" fill="#111"><text x="582.8" y="515.9" textLength="54.4" lengthAdjust="spacingAndGlyphs" transform="matrix(1 0 0 1.04 0 -20.64)">&#8722;<tspan font-style="italic" font-size="13.2">&#945;</tspan>&#8201;=&#8201;&#8722;0.1535</text></g><circle cx="635.6" cy="620.9" r="2.3" fill="#b4b4a8"/><path d="M633.1 632.8H638.1L635.6 637Z" fill="#8e8e00"/><g font-size="9.9" fill="#1a1a1a"><text x="652.4" y="624.4" textLength="51" lengthAdjust="spacingAndGlyphs">Conductivity</text><text x="652.4" y="638" textLength="30.4" lengthAdjust="spacingAndGlyphs">Salinity</text></g></g></svg>
</body></html>
